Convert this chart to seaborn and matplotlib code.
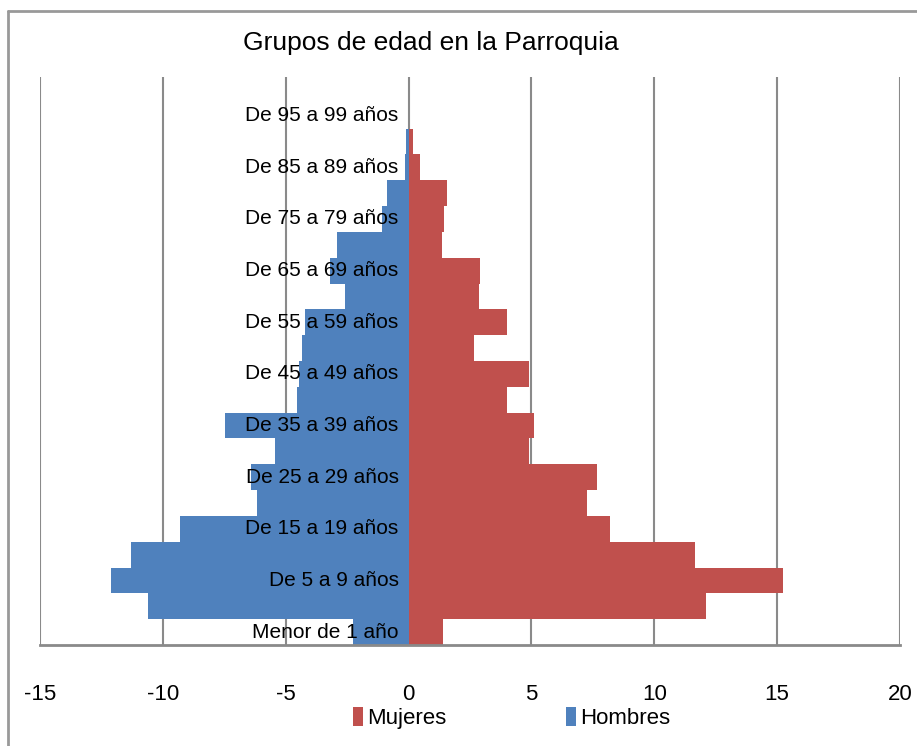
import matplotlib
matplotlib.use("Agg")
import matplotlib.pyplot as plt
from matplotlib.lines import Line2D
import seaborn as sns
import pandas as pd

# grupos de edad, de abajo (Menor de 1 año) hacia arriba
grupos = ["Menor de 1 año", "De 1 a 4 años", "De 5 a 9 años", "De 10 a 14 años",
          "De 15 a 19 años", "De 20 a 24 años", "De 25 a 29 años", "De 30 a 34 años",
          "De 35 a 39 años", "De 40 a 44 años", "De 45 a 49 años", "De 50 a 54 años",
          "De 55 a 59 años", "De 60 a 64 años", "De 65 a 69 años", "De 70 a 74 años",
          "De 75 a 79 años", "De 80 a 84 años", "De 85 a 89 años", "De 90 a 94 años",
          "De 95 a 99 años"]

mujeres = [1.4, 12.1, 15.25, 11.65, 8.2, 7.25, 7.65, 4.9, 5.1, 4.0, 4.9,
           2.65, 4.0, 2.85, 2.9, 1.35, 1.45, 1.55, 0.45, 0.18, 0.0]
hombres = [-2.25, -10.6, -12.12, -11.3, -9.3, -6.17, -6.43, -5.43, -7.46, -4.55, -4.45,
           -4.34, -4.2, -2.58, -3.19, -2.92, -1.08, -0.87, -0.15, -0.1, 0.0]

xticks = [-15, -10, -5, 0, 5, 10, 15, 20]

df = pd.concat([
    pd.DataFrame({"grupo": grupos, "valor": mujeres, "sexo": "Mujeres"}),
    pd.DataFrame({"grupo": grupos, "valor": hombres, "sexo": "Hombres"}),
])

sns.set_theme(style="white")
plt.rcParams["font.family"] = ["Liberation Sans Narrow", "Liberation Sans", "DejaVu Sans"]
plt.rcParams["text.color"] = "black"
plt.rcParams["xtick.color"] = "black"

fig = plt.figure(figsize=(9.17, 7.46), dpi=100)
ax = fig.add_axes([40 / 917, 1 - 645 / 746, 860 / 917, 568 / 746])

orden = grupos[::-1]
sns.barplot(data=df, x="valor", y="grupo", hue="sexo", order=orden,
            hue_order=["Mujeres", "Hombres"], dodge=False, width=1.0,
            palette={"Mujeres": "#C0504D", "Hombres": "#4F81BD"},
            linewidth=0, saturation=1, orient="h", ax=ax, legend=True)

ax.set_xlim(-15, 20)
ax.set_ylim(len(grupos) - 0.5, -1.5)
ax.set_xticks(xticks)
ax.set_xticklabels([str(t) for t in xticks], fontsize=16, color="black")
ax.tick_params(axis="x", length=0, pad=28)
ax.set_yticks([])
ax.set_xlabel("")
ax.set_ylabel("")
ax.set_axisbelow(True)
ax.grid(axis="x", color="#8a8a8a", linewidth=1.5)
for s in ["top", "left", "right"]:
    ax.spines[s].set_visible(False)
ax.spines["bottom"].set_color("#8a8a8a")
ax.spines["bottom"].set_linewidth(2)

# etiquetas de categoria junto al eje 0, una de cada dos
for i, g in enumerate(orden):
    if (len(grupos) - 1 - i) % 2 == 0:
        ax.text(-0.4, i, g, ha="right", va="center", fontsize=15, color="black", zorder=5)

ax.set_title("Grupos de edad en la Parroquia", fontsize=19, x=0.455, y=1.032, color="black")

handles, labels = ax.get_legend_handles_labels()
ax.get_legend().remove()
fig.legend(handles, labels, loc="center", bbox_to_anchor=(0.558, 0.037), ncol=2,
           frameon=False, fontsize=16, handlelength=0.45, handleheight=0.9,
           handletextpad=0.2, columnspacing=5.35, labelcolor="black")

# borde del area del grafico
fig.add_artist(Line2D([8 / 917, 1], [1 - 11 / 746, 1 - 11 / 746], color="#999999", linewidth=2,
                      transform=fig.transFigure))
fig.add_artist(Line2D([8 / 917, 8 / 917], [0, 1 - 11 / 746], color="#999999", linewidth=2,
                      transform=fig.transFigure))

fig.savefig("out.png", dpi=100)
